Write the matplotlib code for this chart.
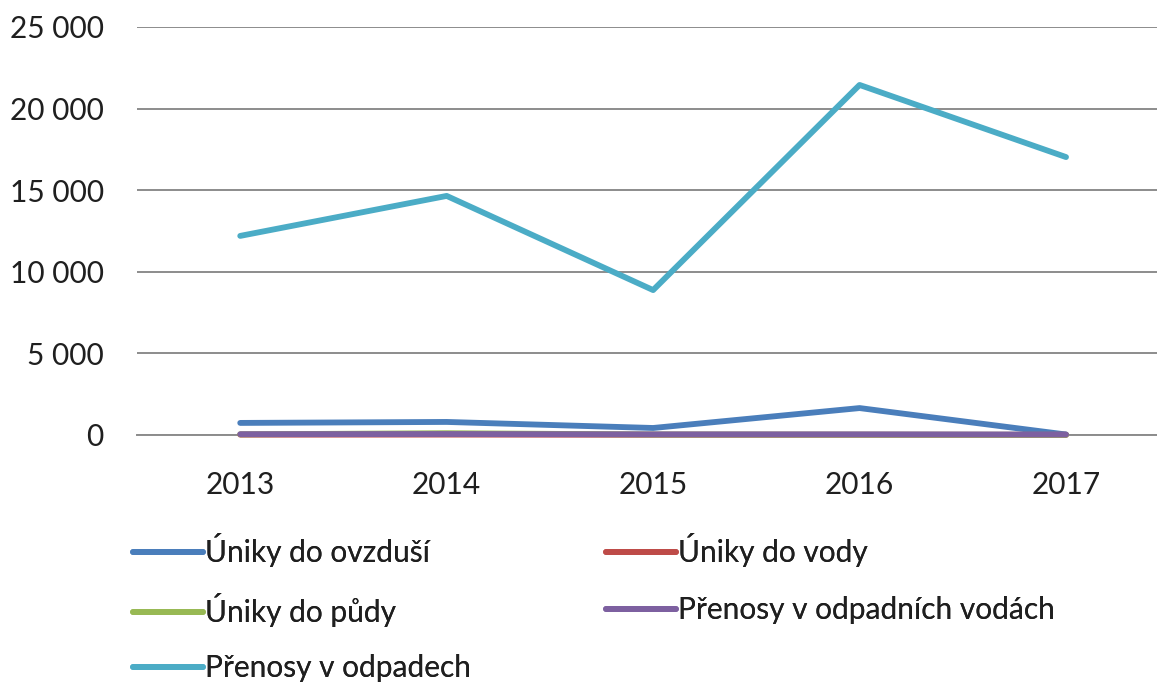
import matplotlib
matplotlib.use("Agg")
import matplotlib.pyplot as plt

years = ["2013", "2014", "2015", "2016", "2017"]
ovzdusi = [740, 800, 430, 1650, 30]
voda = [20, 25, 15, 15, 10]
puda = [40, 110, 30, 20, 10]
odpadni_vody = [50, 60, 40, 40, 30]
odpady = [12200, 14650, 8880, 21450, 17030]

labels = ["Úniky do ovzduší", "Úniky do vody", "Úniky do půdy",
          "Přenosy v odpadních vodách", "Přenosy v odpadech"]
colors = ["#4A7EBB", "#BE4B48", "#98B954", "#7D60A0", "#4BACC6"]
series = [ovzdusi, voda, puda, odpadni_vody, odpady]
yticks = [0, 5000, 10000, 15000, 20000, 25000]
ytick_labels = ["0", "5 000", "10 000", "15 000", "20 000", "25 000"]

plt.rcParams['font.family'] = ['Lato', 'DejaVu Sans']
fig = plt.figure(figsize=(11.57, 6.86), dpi=100)
W, H = 1157, 686
ax = fig.add_axes([137 / W, (H - 435) / H, (1157 - 137) / W, 408 / H])

x = list(range(len(years)))
lines = {}
for lab, col, s in zip(labels, colors, series):
    ln, = ax.plot(x, s, color=col, lw=4.2, solid_capstyle='round',
                  solid_joinstyle='round', label=lab, clip_on=False, zorder=3)
    lines[lab] = ln

ax.set_xlim(-0.5, 4 + (1157 - 1066) / 206.5)
ax.set_ylim(0, 25000)
ax.set_yticks(yticks)
ax.set_yticklabels(ytick_labels)
ax.set_xticks(x)
ax.set_xticklabels(years)
ax.tick_params(length=0, labelsize=21.5, colors='#1F1F1F')
ax.tick_params(axis='y', pad=24)
ax.tick_params(axis='x', pad=26)
ax.grid(axis='y', color='#8C8C8C', lw=1.4)
ax.set_axisbelow(True)
for sp in ['top', 'right', 'left']:
    ax.spines[sp].set_visible(False)
ax.spines['bottom'].set_color('#8C8C8C')
ax.spines['bottom'].set_linewidth(1.4)
ax.spines['bottom'].set_zorder(1)

# legend entries placed on a 2-column grid (col x, row y in pixels)
slots = {labels[0]: (133, 550), labels[1]: (606, 550),
         labels[2]: (133, 610), labels[3]: (606, 610),
         labels[4]: (133, 668)}
for lab, (px, py) in slots.items():
    leg = fig.legend([lines[lab]], [lab], loc='center left',
                     bbox_to_anchor=(px / W, 1 - py / H), frameon=False, fontsize=21.5,
                     handlelength=2.35, handletextpad=0.05, labelcolor='#1F1F1F',
                     borderaxespad=0, borderpad=0)
    fig.add_artist(leg)

fig.savefig("out.png", dpi=100, facecolor='white')
